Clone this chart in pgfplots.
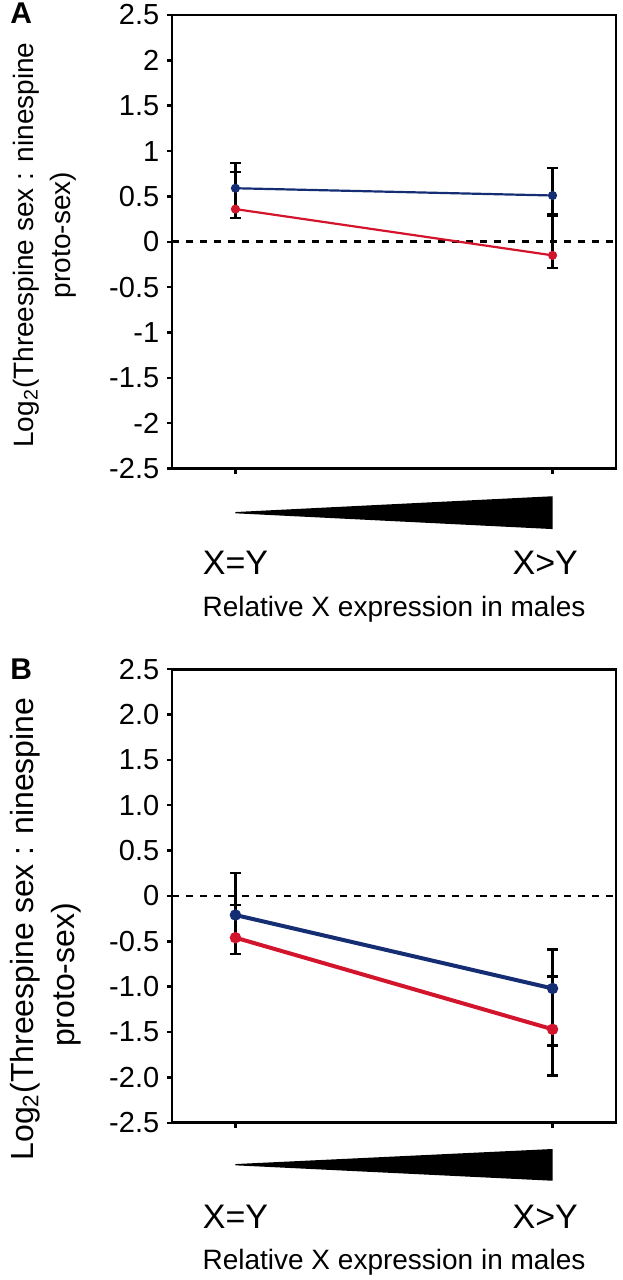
\documentclass[border=0pt]{standalone}
\usepackage{fontspec}
\setmainfont{Liberation Sans}
\usepackage{pgfplots}
\pgfplotsset{compat=1.18}
\definecolor{navyline}{RGB}{20,45,115}
\definecolor{redline}{RGB}{210,20,45}
\pgfplotsset{
  panel/.style={
    scale only axis,
    width=222pt, height=226.75pt,
    anchor=south west,
    xmin=-0.2, xmax=1.2,
    ymin=-2.5, ymax=2.5,
    xtick={0,1}, xticklabels={},
    ytick={-2.5,-2,-1.5,-1,-0.5,0,0.5,1,1.5,2,2.5},
    tick pos=left, tick align=outside,
    major tick length=2.6pt,
    axis line style={line width=1.3pt},
    every tick/.style={black, line width=1.2pt},
    yticklabel style={font=\fontsize{14.5}{16}\selectfont, inner sep=3.6pt},
    clip=false,
  },
  ebar/.style={draw=none, mark=none,
    error bars/.cd, y dir=both, y explicit,
    error bar style={black, line width=#1},
    error mark options={black, rotate=90, mark size=2.8pt, line width=#1}},
}
\begin{document}
\begin{tikzpicture}
\useasboundingbox (0,0) rectangle (311pt,640pt);
% ---------------- Panel A ----------------
\begin{axis}[panel, at={(86pt,405.75pt)},
  yticklabels={-2.5,-2,-1.5,-1,-0.5,0,0.5,1,1.5,2,2.5}]
  \addplot[black, line width=1.3pt, dash pattern=on 3.3pt off 3.7pt] coordinates {(-0.2,0) (1.2,0)};
  \addplot[ebar=1.1pt] coordinates {(0,0.59) += (0,0.28) -= (0,0.33) (1,0.51) += (0,0.30) -= (0,0.20)};
  \addplot[ebar=1.1pt] coordinates {(0,0.36) += (0,0.405) -= (0,0.10) (1,-0.15) += (0,0.44) -= (0,0.14)};
  \addplot[navyline, line width=1.1pt, mark=*, mark size=1.7pt] coordinates {(0,0.59) (1,0.51)};
  \addplot[redline, line width=1.1pt, mark=*, mark size=1.7pt] coordinates {(0,0.36) (1,-0.15)};
  \fill[black] (axis cs:0,-2.980) -- (axis cs:0,-2.994) -- (axis cs:1,-3.168) -- (axis cs:1,-2.806) -- cycle;
  \node[anchor=base, font=\fontsize{17}{19}\selectfont] at (axis cs:0,-3.665) {X=Y};
  \node[anchor=base, font=\fontsize{17}{19}\selectfont] at (axis cs:0.977,-3.665) {X>Y};
  \node[anchor=base, font=\fontsize{14}{16}\selectfont] at (axis cs:0.5,-4.127) {Relative X expression in males};
  \node[rotate=90, anchor=base, font=\fontsize{14}{16}\selectfont] at (rel axis cs:-0.3124,0.4928) {Log\textsubscript{2}(Threespine sex : ninespine};
  \node[rotate=90, anchor=base, font=\fontsize{14}{16}\selectfont] at (rel axis cs:-0.2297,0.5149) {proto-sex)};
\end{axis}
% ---------------- Panel B ----------------
\begin{axis}[panel, at={(86pt,78.65pt)},
  yticklabels={-2.5,-2.0,-1.5,-1.0,-0.5,0,0.5,1.0,1.5,2.0,2.5}]
  \addplot[black, line width=1.3pt, dash pattern=on 3.3pt off 3.7pt] coordinates {(-0.2,0) (1.2,0)};
  \addplot[ebar=1.3pt] coordinates {(0,-0.21) += (0,0.465) -= (0,0.43) (1,-1.02) += (0,0.43) -= (0,0.63)};
  \addplot[ebar=1.3pt] coordinates {(0,-0.46) += (0,0.36) -= (0,0.18) (1,-1.47) += (0,0.58) -= (0,0.51)};
  \addplot[navyline, line width=2pt, mark=*, mark size=1.8pt] coordinates {(0,-0.21) (1,-1.02)};
  \addplot[redline, line width=2pt, mark=*, mark size=1.8pt] coordinates {(0,-0.46) (1,-1.47)};
  \fill[black] (axis cs:0,-2.956) -- (axis cs:0,-2.970) -- (axis cs:1,-3.140) -- (axis cs:1,-2.790) -- cycle;
  \node[anchor=base, font=\fontsize{17}{19}\selectfont] at (axis cs:0,-3.661) {X=Y};
  \node[anchor=base, font=\fontsize{17}{19}\selectfont] at (axis cs:0.977,-3.661) {X>Y};
  \node[anchor=base, font=\fontsize{14}{16}\selectfont] at (axis cs:0.5,-4.121) {Relative X expression in males};
  \node[rotate=90, anchor=base, font=\fontsize{16}{18}\selectfont] at (rel axis cs:-0.3124,0.4272) {Log\textsubscript{2}(Threespine sex : ninespine};
  \node[rotate=90, anchor=base, font=\fontsize{16}{18}\selectfont] at (rel axis cs:-0.2185,0.3258) {proto-sex)};
\end{axis}
% panel letters
\node[anchor=base west, inner sep=0pt, font=\bfseries\fontsize{15}{17}\selectfont] at (5pt,628.4pt) {A};
\node[anchor=base west, inner sep=0pt, font=\bfseries\fontsize{15}{17}\selectfont] at (5pt,300pt) {B};
\end{tikzpicture}
\end{document}
